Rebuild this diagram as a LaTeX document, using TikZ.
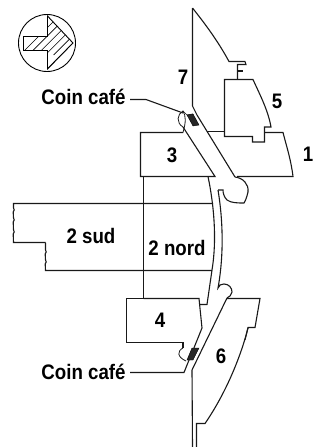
\documentclass[tikz,border=0pt]{standalone}
\usepackage{fontspec}
\setmainfont{Liberation Sans}
\tikzset{wall/.style={draw=black!90,line width=1.1pt,line join=miter},
 lbl/.style={font=\fontsize{21}{21}\selectfont\bfseries,inner sep=0pt,xscale=0.89},
 hatchline/.style={draw=black,line width=0.6pt},
 cafe/.style={fill=black!85,draw=black,line width=0.4pt}}
\begin{document}
\begin{tikzpicture}[x=1pt,y=-1pt]
\useasboundingbox (0,0) rectangle (322,447);
% compass
\draw[line width=0.9pt] (47,43) circle (28.5);
\begin{scope}
\clip (23.5,36.5)--(47.5,36.5)--(47.5,16)--(73,43)--(47.5,69)--(47.5,50.5)--(23.5,50.5)--cycle;
\foreach \i in {0,...,11}{\draw[hatchline] (20+\i*8.4,55)--(20+\i*8.4+40,15);}
\foreach \i in {0,...,6}{\draw[hatchline] (44+\i*8.4,72)--(44+\i*8.4+40,32);}
\end{scope}
\draw[line width=0.9pt] (23.5,36.5)--(47.5,36.5)--(47.5,16)--(73,43)--(47.5,69)--(47.5,50.5)--(23.5,50.5)--cycle;
% 7
\draw[wall] (192.5,8)--(192.5,106)--(197,115)--(235,177);
\draw[wall] (192.5,8) .. controls (210,30) and (220,45) .. (229,61.5)--(245,61.5)--(246,64.5)--(237.5,64.5)--(237.5,79);
\draw[wall] (237.5,71)--(243,71);
% 5
\draw[wall] (224.5,131.5)--(224.5,79.5)--(253,79.5) .. controls (260,95) and (268,110) .. (271,127)--(264.5,127)--(264.5,142)--(252.5,142)--(252.5,136.5)--(224.5,136.5)--cycle;
\draw[wall] (207,131.5)--(224.5,131.5);
% 1
\draw[wall] (264.5,132.5)--(283,132.5) .. controls (287,148) and (291,160) .. (293,176.5)--(237,176.5);
% door top
\draw[wall] (235,177) .. controls (243,178) and (249,184) .. (248,192) .. controls (247,196) and (246,200) .. (244,203) .. controls (238,203) and (231,203) .. (227,200) .. controls (224,197) and (223,193) .. (223,190)--(218,190);
% corridor
\draw[wall] (218,190) .. controls (223,220) and (224,255) .. (218,288) .. controls (219,285) and (221,284) .. (224,284) .. controls (229,284) and (232,288) .. (232,292) .. controls (232,295) and (229,297) .. (227,298);
\draw[wall] (208,176.5) .. controls (214,205) and (217,240) .. (212,270)--(207,304.5)--(199,304.5);
% 3
\draw[wall] (183,132.5)--(140.5,132.5)--(140.5,176.5)--(215,176.5)--(183,127);
% lens top
\draw[wall,line width=0.8pt] (183,127) .. controls (176,123) and (177,114) .. (183,111) .. controls (186,116) and (186,122) .. (183,132.5);
\path[cafe] (187,115)--(193,114)--(199,125)--(193,126)--cycle;
\draw[wall,line width=0.7pt] (183,111)--(187,115)--(193,114);
% 2 sud
\draw[wall] (213,203.5)--(13.5,203.5)--(13.5,208)--(14.2,210)--(13.2,212)--(13.5,218)--(14.2,220)--(13.2,222)--(13.5,230)--(14.2,232)--(13.2,234)--(13.5,242.5)--(45.5,242.5);
\draw[wall] (45.5,242.5)--(45.5,250)--(46.2,252)--(45.2,254)--(45.5,260)--(46.2,262)--(45.2,264)--(45.5,270.5)--(212,270.5);
\draw[wall] (143.5,176)--(143.5,298);
% 4
\draw[wall] (143.5,298.5)--(126.5,298.5)--(126.5,342.5)--(183,342.5)--(183,348);
\draw[wall] (143.5,298.5)--(199,298.5)--(202,328)--(184,372.5)--(130,372.5);
\draw[wall,line width=0.8pt] (183,348) .. controls (177,351) and (177,357) .. (186,361);
\path[cafe] (192,348)--(199,348)--(193,360)--(187,360)--cycle;
% 6
\draw[wall] (227,298)--(192,370)--(192.5,447);
\draw[wall] (227,298.5)--(260,298.5)--(255,327.5)--(248,327.5)--(245,340);
\draw[wall] (248,328) .. controls (242,352) and (228,390) .. (205,423.5)--(196.5,423.5)--(196.5,447);
% labels
\node[lbl] (c1) at (83.5,97) {Coin café};
\node[lbl] (c2) at (83.5,372) {Coin café};
\coordinate (l1) at (130,99.5);
\coordinate (l2) at (146,99.5);
\coordinate (l3) at (183,113);
\draw[wall] (l1)--(l2)--(l3);
\node[lbl] at (183,77) {7};
\node[lbl] at (277,101) {5};
\node[lbl] at (172,155) {3};
\node[lbl] at (308,154) {1};
\node[lbl] at (91,236) {2 sud};
\node[lbl] at (177,248) {2 nord};
\node[lbl] at (160,320) {4};
\node[lbl] at (221,356) {6};
\end{tikzpicture}
\end{document}
